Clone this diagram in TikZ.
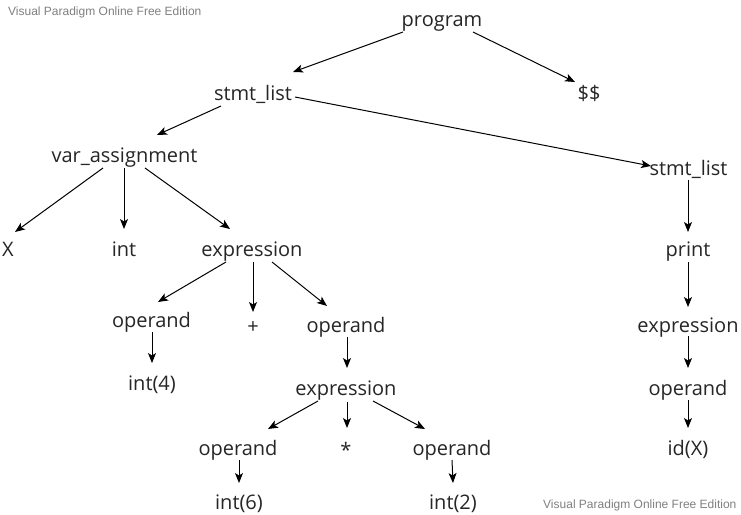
\documentclass[tikz,border=0pt]{standalone}
\usepackage{fontspec}
\setmainfont{Open Sans}
\newfontfamily\wmfont{Liberation Sans}
\usetikzlibrary{arrows.meta,calc}
\definecolor{txt}{RGB}{38,38,38}
\definecolor{wm}{RGB}{128,128,128}
\tikzset{
  lbl/.style={anchor=base,inner sep=0pt,text=txt,font=\fontsize{20}{24}\selectfont},
  wmark/.style={anchor=base west,inner sep=0pt,text=wm,font=\wmfont\fontsize{12}{14}\selectfont},
  arr/.style={draw=black,line width=1pt,-{Stealth[length=10pt,width=8pt,inset=2.5pt]}}
}
\begin{document}
\begin{tikzpicture}[x=1pt,y=-1pt]
\useasboundingbox[fill=white] (0,0) rectangle (741,514);
\node[wmark] (wm1) at (8,16) {Visual Paradigm Online Free Edition};
\node[wmark] (wm2) at (543,508) {Visual Paradigm Online Free Edition};
% nodes (base points)
\node[lbl] (prog) at (442,26) {program};
\node[lbl] (dd) at (589,100) {\$\$};
\node[lbl] (sl) at (253,100) {stmt\_list};
\node[lbl] (va) at (124.5,162) {var\_assignment};
\node[lbl] (sr) at (688.5,175) {stmt\_list};
\node[lbl] (x) at (8,256) {X};
\node[lbl] (int) at (124,256) {int};
\node[lbl] (e1) at (252,256) {expression};
\node[lbl] (pr) at (688,256) {print};
\node[lbl] (o1) at (151.5,327) {operand};
\node[lbl] (plus) at (253,333) {+};
\node[lbl] (o2) at (346,332) {operand};
\node[lbl] (er) at (688,332) {expression};
\node[lbl] (i4) at (152,390) {int(4)};
\node[lbl] (e2) at (346,395) {expression};
\node[lbl] (or) at (688,395) {operand};
\node[lbl] (o3) at (238,455) {operand};
\node[lbl] (star) at (346,457) {*};
\node[lbl] (o4) at (452,455) {operand};
\node[lbl] (id) at (688,455) {id(X)};
\node[lbl] (i6) at (239,509) {int(6)};
\node[lbl] (i2) at (453,509) {int(2)};
% connectors
\draw[arr] ($(prog.base)+(-39,6)$) -- ($(sl.base)+(40,-28)$);
\draw[arr] ($(prog.base)+(31,6)$) -- ($(dd.base)+(-14,-18)$);
\draw[arr] ($(sl.base)+(-32,6)$) -- ($(va.base)+(32.5,-27)$);
\draw[arr] ($(sl.base)+(42,-3)$) -- ($(sr.base)+(-37.5,-9)$);
\draw[arr] ($(va.base)+(-21.5,6)$) -- ($(x.base)+(7,-24)$);
\draw[arr] ($(va.base)+(-0.5,6)$) -- ($(int.base)+(0,-27)$);
\draw[arr] ($(va.base)+(20.5,6)$) -- ($(e1.base)+(-22,-27)$);
\draw[arr] ($(e1.base)+(-26,6)$) -- ($(o1.base)+(6.5,-25)$);
\draw[arr] ($(e1.base)+(1,6)$) -- ($(plus.base)+(0,-21)$);
\draw[arr] ($(e1.base)+(20,6)$) -- ($(o2.base)+(-19,-26)$);
\draw[arr] ($(o1.base)+(0.5,5)$) -- ($(i4.base)+(0,-27)$);
\draw[arr] ($(o2.base)+(1,5)$) -- ($(e2.base)+(1,-27)$);
\draw[arr] ($(e2.base)+(-28,6)$) -- ($(o3.base)+(30,-26)$);
\draw[arr] ($(e2.base)+(1,7)$) -- ($(star.base)+(1,-29)$);
\draw[arr] ($(e2.base)+(27,6)$) -- ($(o4.base)+(-27,-26)$);
\draw[arr] ($(o3.base)+(1,5)$) -- ($(i6.base)+(0,-26)$);
\draw[arr] ($(o4.base)+(0,5)$) -- ($(i2.base)+(0,-26)$);
\draw[arr] ($(sr.base)+(-0.5,5)$) -- ($(pr.base)+(0,-24)$);
\draw[arr] ($(pr.base)+(0,6)$) -- ($(er.base)+(0,-25)$);
\draw[arr] ($(er.base)+(0,4)$) -- ($(or.base)+(0,-27)$);
\draw[arr] ($(or.base)+(0,5)$) -- ($(id.base)+(0,-27)$);
\end{tikzpicture}
\end{document}
